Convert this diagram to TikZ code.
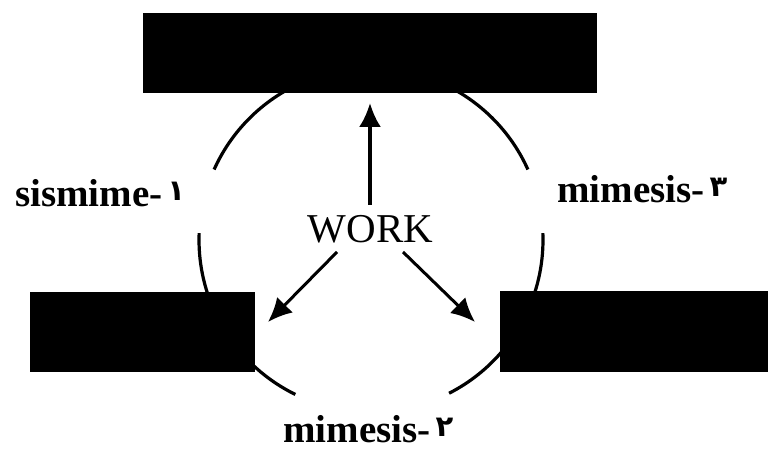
\documentclass[tikz,border=0pt]{standalone}
\usepackage{fontspec}
\setmainfont{Liberation Serif}
\newfontfamily\arabicfont[Script=Arabic]{DejaVu Sans}
\usetikzlibrary{arrows.meta}
\tikzset{
  block/.style={fill=black,draw=none,inner sep=0pt,outer sep=0pt},
  ring/.style={line width=3.2pt},
  workarrow/.style={line width=3.5pt,-{Latex[length=24pt,width=22pt]}},
  lbl/.style={inner sep=0pt,anchor=base west,font=\fontsize{39}{46}\selectfont\bfseries},
}
\newcommand{\pdigit}[1]{\hspace{5pt}\raisebox{6pt}{\arabicfont\bfseries\fontsize{29}{29}\selectfont #1}}
\begin{document}
\begin{tikzpicture}[x=1pt,y=1pt]
\useasboundingbox (0,0) rectangle (768,454);
\coordinate (c) at (371,214);
% circle arcs
\draw[ring] ([shift={(c)}]118:172) arc[start angle=118,end angle=155.8,radius=172];
\draw[ring] ([shift={(c)}]177.7:172) arc[start angle=177.7,end angle=205,radius=172];
\draw[ring] ([shift={(c)}]222:172) arc[start angle=222,end angle=243.9,radius=172];
\draw[ring] ([shift={(c)}]297:172) arc[start angle=297,end angle=320,radius=172];
\draw[ring] ([shift={(c)}]335:172) arc[start angle=335,end angle=362.3,radius=172];
\draw[ring] ([shift={(c)}]24.2:172) arc[start angle=24.2,end angle=62,radius=172];
% blocks
\node[block,minimum width=454pt,minimum height=80pt] (top) at (370,401) {};
\node[block,minimum width=225pt,minimum height=80pt] (left) at (142.5,122) {};
\node[block,minimum width=268pt,minimum height=81pt] (right) at (634,122.5) {};
% WORK
\node[inner sep=0pt,anchor=base,font=\fontsize{41}{48}\selectfont] (work) at (370.5,211) {WORK};
\coordinate (upS) at (370,249);
\coordinate (upE) at (370,351);
\coordinate (lS) at (337,202);
\coordinate (lE) at (268,132);
\coordinate (rS) at (403,202);
\coordinate (rE) at (475,132);
\draw[workarrow] (upS) -- (upE);
\draw[workarrow,line width=3pt] (lS) -- (lE);
\draw[workarrow,line width=3pt] (rS) -- (rE);
% labels
\node[lbl] (l1) at (15,247) {sismime-\pdigit{۱}};
\node[lbl] (l3) at (557,251) {mimesis-\pdigit{۳}};
\node[lbl] (l2) at (283,11) {mimesis-\pdigit{۲}};
\end{tikzpicture}
\end{document}
